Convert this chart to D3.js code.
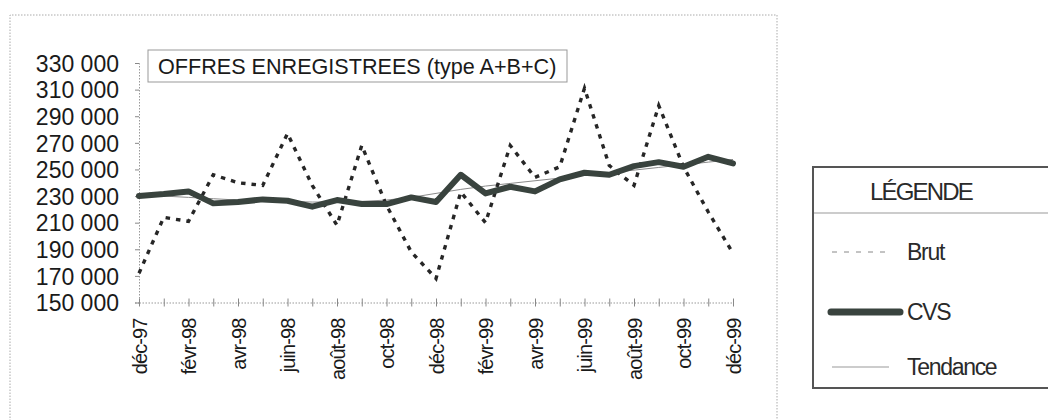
<!DOCTYPE html>
<html>
<head>
<meta charset="utf-8">
<script src="https://cdn.jsdelivr.net/npm/d3@7"></script>
<style>
  html, body { margin: 0; padding: 0; background: #fff; }
  svg { display: block; font-family: "Liberation Sans", Arial, sans-serif; }
</style>
</head>
<body>
<svg id="chart" width="1048" height="420"></svg>
<script>
// ---- data ----
const months = ["déc-97","janv-98","févr-98","mars-98","avr-98","mai-98","juin-98","juil-98","août-98","sept-98","oct-98","nov-98",
                "déc-98","janv-99","févr-99","mars-99","avr-99","mai-99","juin-99","juil-99","août-99","sept-99","oct-99","nov-99","déc-99"];
const brut = [172000,214000,211000,246000,240000,238000,277000,238000,208000,268000,223000,188000,168000,
              233000,210000,268000,244000,252000,311000,253000,238000,298000,252000,218000,187000];
const cvs  = [230000,231500,233500,224500,225500,227500,226500,222000,227000,224000,224000,229000,225500,
              246000,232000,237000,233500,242500,247500,246000,252500,255500,252000,259500,254500];
const tendance = [230500,230000,229000,228000,227000,226500,226000,225500,225500,226000,227000,229000,232000,
                  235000,237500,239500,241500,243500,245500,247500,249500,251500,253500,255500,257500];
const yTicks = [150000,170000,190000,210000,230000,250000,270000,290000,310000,330000];
const xTickLabels = months.filter((m, i) => i % 2 === 0);
const title = "OFFRES ENREGISTREES (type A+B+C)";
const legendTitle = "LÉGENDE";
const seriesNames = ["Brut", "CVS", "Tendance"];

// ---- drawing ----
const svg = d3.select("#chart");
const x = d3.scalePoint().domain(months).range([139, 733]);
const y = d3.scaleLinear().domain([150000, 330000]).range([302.5, 63]);
const fmt = v => d3.format(",")(v).replace(/,/g, " ");

// outer chart frame (dotted)
svg.append("path")
  .attr("d", "M10,430 L10,15 L777,15 L777,430")
  .attr("fill", "none").attr("stroke", "#aaa").attr("stroke-width", 1)
  .attr("stroke-dasharray", "1.5,1.5");

// y axis
const yAxis = d3.axisLeft(y).tickValues(yTicks).tickFormat(fmt).tickSize(4).tickPadding(16);
const gy = svg.append("g").attr("transform", "translate(139,0)").call(yAxis);
gy.select(".domain").attr("stroke", "#999").attr("stroke-dasharray", "1.5,1.5");
gy.selectAll(".tick line").attr("stroke", "#888");
gy.selectAll(".tick text").attr("fill", "#1a1a1a").attr("font-size", 23)
  .style("font-family", "'Liberation Sans', Arial, sans-serif").attr("dy", "0.36em");

// x axis
const xAxis = d3.axisBottom(x).tickValues(months).tickSize(0).tickFormat("");
const gx = svg.append("g").attr("transform", "translate(0,302.5)").call(xAxis);
gx.select(".domain").attr("stroke", "#999").attr("stroke-dasharray", "1.5,1.5");
gx.selectAll(".tick").append("line").attr("y1", -4).attr("y2", 4).attr("stroke", "#888");
gx.selectAll(".tick").filter(d => xTickLabels.includes(d)).append("text")
  .attr("transform", "rotate(-90)")
  .attr("x", -16).attr("dy", "0.36em")
  .attr("text-anchor", "end")
  .attr("fill", "#1a1a1a").attr("font-size", 20)
  .style("letter-spacing", "-0.9px")
  .text(d => d);

// title box
const tg = svg.append("g");
tg.append("rect").attr("x", 148).attr("y", 50).attr("width", 419).attr("height", 32)
  .attr("fill", "#fff").attr("stroke", "#999").attr("stroke-width", 1);
tg.append("text").attr("x", 158).attr("y", 74).attr("font-size", 21.6).attr("fill", "#1a1a1a").text(title);

// lines
const line = d3.line().x((d, i) => x(months[i])).y(d => y(d));
svg.append("path").datum(tendance).attr("d", line)
  .attr("fill", "none").attr("stroke", "#8a8a8a").attr("stroke-width", 1);
svg.append("path").datum(brut).attr("d", line)
  .attr("fill", "none").attr("stroke", "#262626").attr("stroke-width", 3.4)
  .attr("stroke-dasharray", "4.5,6");
svg.append("path").datum(cvs).attr("d", line)
  .attr("fill", "none").attr("stroke", "#39433e").attr("stroke-width", 6)
  .attr("stroke-linejoin", "round").attr("stroke-linecap", "round");

// legend
const lg = svg.append("g");
lg.append("rect").attr("x", 813).attr("y", 167).attr("width", 260).attr("height", 221)
  .attr("fill", "#fff").attr("stroke", "#555").attr("stroke-width", 2);
lg.append("line").attr("x1", 814).attr("x2", 1048).attr("y1", 213).attr("y2", 213)
  .attr("stroke", "#999").attr("stroke-width", 1);
lg.append("text").attr("x", 921).attr("y", 200).attr("text-anchor", "middle")
  .attr("font-size", 24).attr("fill", "#2a2a2a").style("letter-spacing", "-1.8px").text(legendTitle);
const ly = [252, 312, 367];
const sampleStyles = [
  {stroke: "#888", w: 1, dash: "5,7", x1: 832, x2: 889, cap: "butt"},
  {stroke: "#39433e", w: 7, dash: null, x1: 831, x2: 900, cap: "round"},
  {stroke: "#999", w: 1, dash: null, x1: 832, x2: 889, cap: "butt"}
];
seriesNames.forEach((name, i) => {
  const s = sampleStyles[i];
  lg.append("line").attr("x1", s.x1).attr("x2", s.x2).attr("y1", ly[i]).attr("y2", ly[i])
    .attr("stroke", s.stroke).attr("stroke-width", s.w).attr("stroke-linecap", s.cap)
    .attr("stroke-dasharray", s.dash);
  lg.append("text").attr("x", 907).attr("y", ly[i]).attr("dy", "0.36em")
    .attr("font-size", 23).attr("fill", "#2a2a2a").style("letter-spacing", "-1.3px").text(name);
});
</script>
</body>
</html>
